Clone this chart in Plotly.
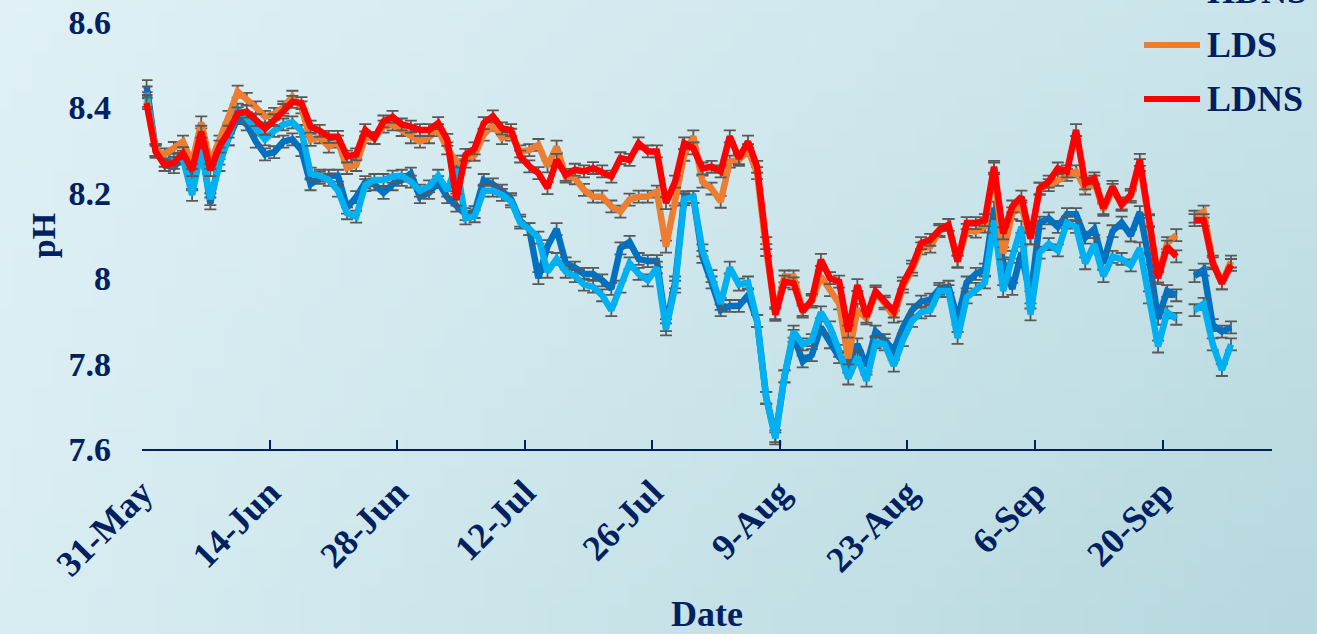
import base64
import struct
import zlib

import pandas as pd
import plotly.graph_objects as go

# Daily sampling dates (31-May to 27-Sep); one day (24-Sep) has no reading
dates = pd.date_range("2019-05-31", periods=120, freq="D")

hds = [
    8.45, 8.30, 8.265, 8.26, 8.285, 8.22, 8.31, 8.175, 8.28, 8.325,
    8.375, 8.36, 8.32, 8.29, 8.295, 8.32, 8.325, 8.30, 8.22, 8.235,
    8.24, 8.24, 8.165, 8.19, 8.225, 8.22, 8.20, 8.22, 8.23, 8.245,
    8.19, 8.20, 8.225, 8.19, 8.17, 8.15, 8.155, 8.23, 8.22, 8.205,
    8.185, 8.135, 8.115, 8.00, 8.075, 8.115, 8.035, 8.025, 8.01, 8.01,
    7.995, 7.975, 8.07, 8.085, 8.045, 8.04, 8.04, 7.89, 7.99, 8.19,
    8.19, 8.05, 7.99, 7.925, 7.935, 7.935, 7.96, 7.90, 7.72, 7.63,
    7.77, 7.865, 7.805, 7.82, 7.885, 7.85, 7.815, 7.80, 7.845, 7.795,
    7.875, 7.855, 7.83, 7.885, 7.925, 7.945, 7.95, 7.975, 7.98, 7.905,
    7.99, 8.01, 8.02, 8.165, 8.035, 7.975, 8.06, 7.955, 8.13, 8.14,
    8.12, 8.15, 8.15, 8.095, 8.115, 8.035, 8.11, 8.13, 8.10, 8.155,
    8.045, 7.905, 7.97, 7.96, None, 8.005, 8.02, 7.89, 7.875, 7.885,
]

hdns = [
    8.435, 8.30, 8.275, 8.28, 8.28, 8.195, 8.30, 8.185, 8.265, 8.325,
    8.395, 8.375, 8.35, 8.325, 8.345, 8.36, 8.365, 8.345, 8.245, 8.24,
    8.23, 8.205, 8.152, 8.144, 8.218, 8.23, 8.23, 8.238, 8.24, 8.226,
    8.205, 8.215, 8.24, 8.205, 8.265, 8.14, 8.145, 8.205, 8.205, 8.195,
    8.18, 8.13, 8.115, 8.095, 8.015, 8.045, 8.015, 8.005, 7.985, 7.98,
    7.96, 7.925, 7.98, 8.035, 8.01, 7.995, 8.025, 7.88, 7.98, 8.185,
    8.19, 8.065, 8.005, 7.94, 8.025, 7.985, 7.99, 7.90, 7.72, 7.625,
    7.77, 7.875, 7.845, 7.855, 7.92, 7.885, 7.83, 7.765, 7.815, 7.76,
    7.85, 7.845, 7.795, 7.855, 7.90, 7.92, 7.925, 7.97, 7.97, 7.86,
    7.955, 7.975, 7.99, 8.135, 7.97, 8.05, 8.12, 7.915, 8.06, 8.08,
    8.065, 8.13, 8.12, 8.035, 8.08, 8.005, 8.05, 8.045, 8.03, 8.07,
    7.955, 7.84, 7.92, 7.905, None, 7.925, 7.94, 7.845, 7.785, 7.845,
]

lds = [
    8.415, 8.30, 8.29, 8.305, 8.32, 8.27, 8.365, 8.27, 8.32, 8.378,
    8.437, 8.42, 8.40, 8.378, 8.385, 8.40, 8.425, 8.40, 8.324, 8.33,
    8.308, 8.32, 8.258, 8.265, 8.33, 8.328, 8.355, 8.36, 8.347, 8.33,
    8.32, 8.33, 8.347, 8.304, 8.273, 8.273, 8.289, 8.336, 8.359, 8.328,
    8.336, 8.297, 8.30, 8.312, 8.262, 8.308, 8.238, 8.234, 8.207, 8.191,
    8.191, 8.168, 8.156, 8.184, 8.191, 8.191, 8.203, 8.074, 8.184, 8.289,
    8.332, 8.226, 8.21, 8.179, 8.273, 8.277, 8.30, 8.246, 8.066, 7.918,
    8.004, 8.004, 7.926, 7.945, 8.004, 7.972, 7.941, 7.812, 7.926, 7.906,
    7.965, 7.941, 7.91, 7.98, 8.02, 8.07, 8.074, 8.11, 8.125, 8.039,
    8.113, 8.109, 8.121, 8.257, 8.058, 8.152, 8.168, 8.093, 8.21, 8.218,
    8.23, 8.242, 8.25, 8.21, 8.226, 8.16, 8.207, 8.175, 8.191, 8.265,
    8.136, 8.004, 8.082, 8.101, None, 8.144, 8.156, 8.039, 7.988, 8.039,
]

ldns = [
    8.41, 8.296, 8.265, 8.27, 8.293, 8.253, 8.343, 8.253, 8.308, 8.343,
    8.386, 8.39, 8.37, 8.35, 8.37, 8.394, 8.413, 8.41, 8.355, 8.345,
    8.331, 8.331, 8.285, 8.29, 8.347, 8.328, 8.367, 8.378, 8.36, 8.355,
    8.347, 8.347, 8.363, 8.324, 8.184, 8.289, 8.304, 8.363, 8.379, 8.351,
    8.347, 8.285, 8.262, 8.246, 8.211, 8.277, 8.242, 8.254, 8.25, 8.258,
    8.25, 8.238, 8.281, 8.277, 8.316, 8.297, 8.297, 8.176, 8.226, 8.316,
    8.304, 8.257, 8.261, 8.25, 8.332, 8.281, 8.32, 8.261, 8.082, 7.914,
    7.992, 7.988, 7.922, 7.949, 8.043, 8.0, 7.992, 7.875, 7.984, 7.91,
    7.969, 7.945, 7.922, 7.988, 8.027, 8.082, 8.09, 8.113, 8.125, 8.039,
    8.129, 8.129, 8.136, 8.261, 8.105, 8.168, 8.191, 8.093, 8.21, 8.226,
    8.257, 8.25, 8.347, 8.222, 8.234, 8.164, 8.214, 8.172, 8.195, 8.277,
    8.133, 8.0, 8.074, 8.051, None, 8.136, 8.136, 8.035, 7.988, 8.031,
]

series_names = ["HDS", "HDNS", "LDS", "LDNS"]
series_values = [hds, hdns, lds, ldns]
series_colors = ["#0070C0", "#00B0F0", "#ED7D31", "#FF0000"]

y_ticks = [7.6, 7.8, 8.0, 8.2, 8.4, 8.6]
y_tick_text = ["7.6", "7.8", "8", "8.2", "8.4", "8.6"]

NAVY = "#002060"
FONT = "Liberation Serif"

# plot area in pixels
W, H = 1317, 634
L, R, T, B = 142, 45, 22, 185
PW, PH = W - L - R, H - T - B


def gradient_png(w, h, tl, tr, bl, br):
    """Small RGB PNG with a bilinear colour blend between four corners."""
    raw = bytearray()
    for j in range(h):
        v = j / (h - 1)
        raw.append(0)
        for i in range(w):
            u = i / (w - 1)
            for k in range(3):
                raw.append(round((1 - u) * (1 - v) * tl[k] + u * (1 - v) * tr[k]
                                 + (1 - u) * v * bl[k] + u * v * br[k]))

    def chunk(tag, data):
        return (struct.pack(">I", len(data)) + tag + data
                + struct.pack(">I", zlib.crc32(tag + data) & 0xFFFFFFFF))

    png = (b"\x89PNG\r\n\x1a\n"
           + chunk(b"IHDR", struct.pack(">IIBBBBB", w, h, 8, 2, 0, 0, 0))
           + chunk(b"IDAT", zlib.compress(bytes(raw)))
           + chunk(b"IEND", b""))
    return "data:image/png;base64," + base64.b64encode(png).decode()


# points sit in the middle of each day's slot
x_mid = dates + pd.Timedelta(hours=12)

fig = go.Figure()
for name, vals, col in zip(series_names, series_values, series_colors):
    fig.add_trace(go.Scatter(
        x=x_mid, y=vals, name=name, mode="lines",
        line=dict(color=col, width=6.5),
        error_y=dict(type="constant", value=0.014, color="#595959",
                     thickness=1.8, width=6),
        showlegend=False,
    ))

# legend drawn as line samples + labels, stacked from the top right
leg_x0 = (1144 - L) / PW
leg_x1 = (1200 - L) / PW
leg_tx = (1205 - L) / PW
leg_rows_px = [-63, -9, 45, 99]
for name, col, ypx in zip(series_names, series_colors, leg_rows_px):
    yp = (H - B - ypx) / PH
    fig.add_shape(type="line", xref="paper", yref="paper",
                  x0=leg_x0, x1=leg_x1, y0=yp, y1=yp,
                  line=dict(color=col, width=6))
    fig.add_annotation(xref="paper", yref="paper", x=leg_tx, y=yp,
                       text=name, showarrow=False, xanchor="left",
                       yanchor="middle",
                       font=dict(family=FONT, size=36, color=NAVY,
                                 weight="bold"))

bg = gradient_png(64, 32, (224, 240, 245), (200, 228, 234),
                  (216, 237, 242), (182, 216, 222))

fig.update_layout(
    width=W, height=H,
    margin=dict(l=L, r=R, t=T, b=B, autoexpand=False),
    paper_bgcolor="#CFE7EC",
    plot_bgcolor="rgba(0,0,0,0)",
    font=dict(family=FONT, color=NAVY, size=34, weight="bold"),
    images=[dict(source=bg, xref="paper", yref="paper",
                 x=-L / PW, y=1 + T / PH, sizex=W / PW, sizey=H / PH,
                 xanchor="left", yanchor="top", sizing="stretch",
                 layer="below")],
    xaxis=dict(
        type="date",
        range=["2019-05-31", "2019-10-02"],
        tick0="2019-05-31", dtick=14 * 86400000,
        tickformat="%-d-%b", tickangle=-45,
        ticks="inside", ticklen=9, tickwidth=2, tickcolor=NAVY,
        showline=True, linecolor=NAVY, linewidth=2,
        showgrid=False, zeroline=False,
        ticklabelstandoff=6,
        tickfont=dict(family=FONT, size=36, color=NAVY, weight="bold"),
        title=dict(text="Date", standoff=24,
                   font=dict(family=FONT, size=36, color=NAVY, weight="bold")),
        automargin=False,
    ),
    yaxis=dict(
        range=[7.6, 8.6], tickvals=y_ticks, ticktext=y_tick_text,
        showline=False, showgrid=False, zeroline=False, ticks="",
        ticklabelstandoff=30,
        tickfont=dict(family=FONT, size=34, color=NAVY, weight="bold"),
        title=dict(text="pH", standoff=2,
                   font=dict(family=FONT, size=34, color=NAVY, weight="bold")),
        automargin=False,
    ),
)

fig.write_html("out.html")
